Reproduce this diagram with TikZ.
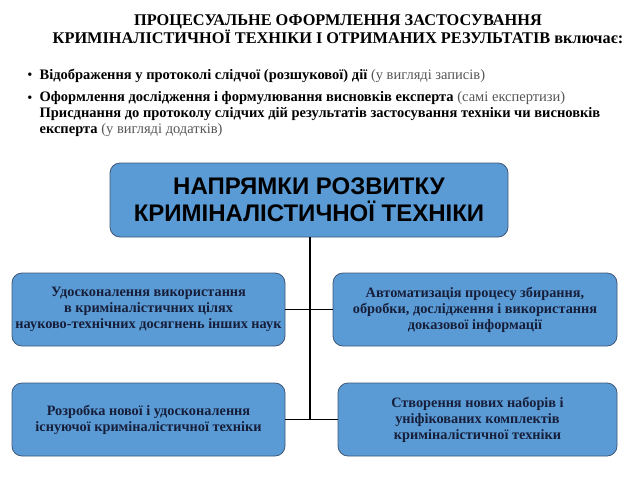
\documentclass[tikz,border=0pt]{standalone}
\usepackage{fontspec}
\setmainfont{Liberation Serif}
\newfontfamily\headfont{Liberation Sans}
\usetikzlibrary{positioning}
\definecolor{boxblue}{RGB}{91,155,213}
\definecolor{boxedge}{RGB}{62,88,120}
\definecolor{boxtext}{RGB}{22,30,58}
\definecolor{notegray}{RGB}{85,85,85}

\begin{document}
\begin{tikzpicture}[x=1pt, y=-1pt,
    branch/.style={draw=boxedge, line width=0.8pt, fill=boxblue, rounded corners=10pt,
      minimum height=73pt, align=center, inner sep=1pt, text=boxtext,
      font=\bfseries\fontsize{14.3}{16}\selectfont},
    link/.style={line width=1.5pt}]
      \useasboundingbox (0,0) rectangle (640,480);
      % heading and the two bullets
      \node(title) at (338,29.5) [align=center, font=\bfseries\fontsize{16.3}{18}\selectfont]
        {ПРОЦЕСУАЛЬНЕ ОФОРМЛЕННЯ ЗАСТОСУВАННЯ\\КРИМІНАЛІСТИЧНОЇ ТЕХНІКИ І ОТРИМАНИХ РЕЗУЛЬТАТІВ включає:};
      \node(dot1) at (30,76) [font=\fontsize{14.5}{16}\selectfont] {•};
      \node(txt1) [right=0pt of dot1, font=\fontsize{14.5}{16}\selectfont]
        {\textbf{Відображення у протоколі слідчої (розшукової) дії} \textcolor{notegray}{(у вигляді записів)}};
      \node(dot2) at (30,99) [font=\fontsize{14.5}{16}\selectfont] {•};
      \node(txt2) [right=0pt of dot2.north east, anchor=north west, yshift=4pt, align=left,
        font=\fontsize{14.5}{16}\selectfont]
        {\textbf{Оформлення дослідження і формулювання висновків експерта} \textcolor{notegray}{(самі експертизи)}\\
         \textbf{Присднання до протоколу слідчих дій результатів застосування техніки чи висновків}\\
         \textbf{експерта} \textcolor{notegray}{(у вигляді додатків)}};

      % boxes
      \node(top) at (309,200) [branch, minimum width=398pt, minimum height=74pt, text=black,
        font=\headfont\bfseries\fontsize{24}{27}\selectfont]
        {НАПРЯМКИ РОЗВИТКУ\\КРИМІНАЛІСТИЧНОЇ ТЕХНІКИ};
      \node(use) at (148.5,309.5) [branch, minimum width=273pt]
        {Удосконалення використання\\в криміналістичних цілях\\науково-технічних досягнень інших наук};
      \node(auto) at (475,309.5) [branch, minimum width=284pt]
        {Автоматизація процесу збирання,\\обробки, дослідження і використання\\доказової інформації};
      \node(devel) at (148.5,419.5) [branch, minimum width=273pt]
        {Розробка нової і удосконалення\\існуючої криміналістичної техніки};
      \node(sets) at (477.5,419.5) [branch, minimum width=279pt]
        {Створення нових наборів і\\уніфікованих комплектів\\криміналістичної техніки};

      \coordinate(j1) at (310,309.5);
      \coordinate(j2) at (310,419.5);

      \draw[link](top.south -| j1) -- (j2);
      \draw[link](use.east) -- (j1);
      \draw[link](j1) -- (auto.west);
      \draw[link](devel.east) -- (j2);
      \draw[link](j2) -- (sets.west);
    \end{tikzpicture}
\end{document}
